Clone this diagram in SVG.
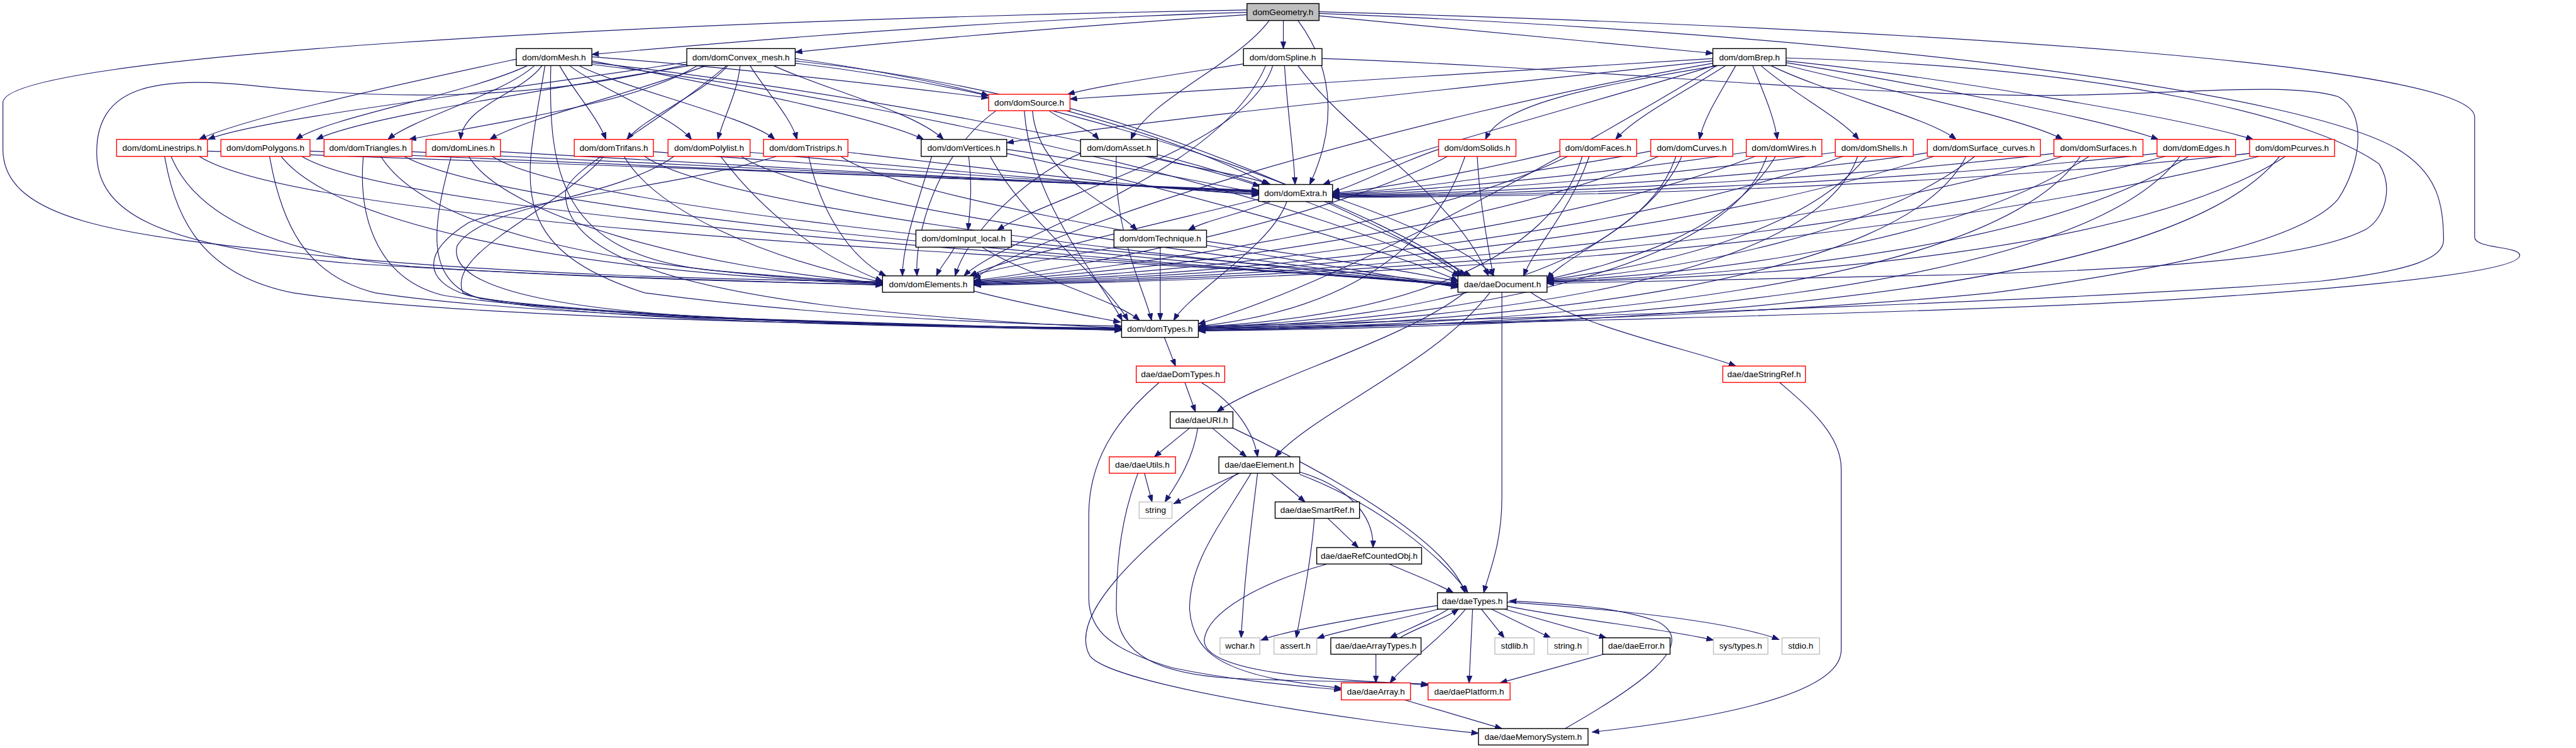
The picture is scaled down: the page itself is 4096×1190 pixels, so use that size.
<svg xmlns="http://www.w3.org/2000/svg" width="4096" height="1190" viewBox="0 0 4096 1190">
<defs>
<marker id="a" markerUnits="userSpaceOnUse" markerWidth="13" markerHeight="10" refX="12" refY="4.5" orient="auto"><path d="M0,0 L12,4.5 L0,9 Z" fill="#191970" stroke="#191970" stroke-width="1"/></marker>
<style>
.e path{fill:none;stroke:#191970;stroke-width:1.25;marker-end:url(#a)}
.n rect{fill:#fff;stroke:#000;stroke-width:1.5}
.n.r rect{stroke:#ff0000}
.n.g rect{stroke:#bfbfbf}
.n.root rect{fill:#bfbfbf}
.n text{font-family:"Liberation Sans",Arial,sans-serif;font-size:14.6px;text-anchor:middle;fill:#000}
</style>
</defs>
<rect width="4096" height="1190" fill="#fff"/>
<g transform="scale(0.93176)">
<g id="connectors" class="e">
<path d="M2128,21 C1750,32 1350,62 1010,93"/>
<path d="M2128,25 C1900,40 1600,64 1357,89"/>
<path d="M2128,17 C1100,35 5,95 5,175 L5,255 C5,390 260,405 560,438 C900,470 1250,478 1506,481"/>
<path d="M2190,35 L2190,83"/>
<path d="M2166,35 C2110,110 1960,170 1930,238"/>
<path d="M2215,35 C2285,130 2275,230 2235,315"/>
<path d="M2251,27 C2500,50 2750,75 2923,91"/>
<path d="M2251,20 C3300,50 4223,110 4223,200 L4223,405 C4223,425 4300,420 4300,436 C4300,470 3900,500 3700,512 C3300,535 2400,556 2045,560"/>
<path d="M2251,23 C3200,60 3950,160 4100,260 C4160,300 4170,350 4170,410 C4170,440 4120,462 3960,480 C3600,510 2800,540 2045,557"/>
<path d="M881,101 C700,140 420,200 340,238"/>
<path d="M900,112 C800,160 560,200 505,238"/>
<path d="M912,112 C860,160 710,200 662,238"/>
<path d="M925,112 C890,160 790,180 786,238"/>
<path d="M955,112 C975,150 1020,200 1034,238"/>
<path d="M972,112 C1020,150 1150,200 1180,238"/>
<path d="M988,112 C1060,150 1280,200 1322,238"/>
<path d="M1010,104 C1200,140 1500,200 1576,238"/>
<path d="M1010,97 C1250,115 1550,150 1687,167"/>
<path d="M1010,107 C1400,150 1950,250 2150,318"/>
<path d="M940,112 C935,300 960,430 1200,460 C1350,475 1450,478 1506,484"/>
<path d="M930,112 C900,300 850,420 1100,500 C1400,540 1700,553 1914,557"/>
<path d="M1010,110 C1600,180 2300,360 2490,472"/>
<path d="M1172,106 C900,150 450,200 355,238"/>
<path d="M1176,112 C900,160 620,200 540,238"/>
<path d="M1190,112 C1100,170 900,200 698,238"/>
<path d="M1205,112 C1080,160 900,200 836,238"/>
<path d="M1242,112 C1200,160 1100,200 1070,238"/>
<path d="M1263,112 C1258,160 1235,200 1225,238"/>
<path d="M1280,112 C1310,160 1350,200 1360,238"/>
<path d="M1320,112 C1400,150 1560,190 1610,238"/>
<path d="M1357,100 C1500,120 1620,145 1687,163"/>
<path d="M1357,104 C1700,140 2000,230 2165,315"/>
<path d="M1172,110 C900,175 650,170 420,145 C260,130 165,150 165,260 C165,360 260,420 600,450 C1000,475 1300,480 1506,487"/>
<path d="M1240,112 C1100,230 965,290 965,330 C965,420 1100,480 1400,520 C1600,545 1800,555 1914,560"/>
<path d="M1357,108 C1900,170 2400,380 2500,471"/>
<path d="M2122,109 C2020,125 1880,145 1822,161"/>
<path d="M2172,112 C2130,250 1800,330 1702,393"/>
<path d="M2192,112 C2198,200 2208,260 2210,315"/>
<path d="M2160,112 C2080,300 1720,400 1645,471"/>
<path d="M2215,112 C2300,230 2480,330 2540,471"/>
<path d="M2256,100 C2700,115 3100,160 3480,163 C3700,163 3900,138 3990,165 C4040,190 4030,280 3990,340 C3930,410 3700,460 3400,500 C3000,540 2400,555 2045,565"/>
<path d="M2923,100 C2600,120 2100,150 1826,169"/>
<path d="M2923,104 C2500,150 1900,210 1718,244"/>
<path d="M2926,112 C2700,180 2400,260 2258,315"/>
<path d="M2932,112 C2700,150 2560,180 2535,238"/>
<path d="M2945,112 C2870,160 2790,200 2757,238"/>
<path d="M2962,112 C2935,160 2908,200 2900,238"/>
<path d="M2991,112 C3010,160 3028,200 3033,238"/>
<path d="M3005,112 C3060,160 3140,200 3172,238"/>
<path d="M3022,112 C3120,160 3290,200 3338,238"/>
<path d="M3042,110 C3200,150 3450,200 3520,238"/>
<path d="M3048,107 C3250,140 3580,200 3683,238"/>
<path d="M3048,104 C3300,130 3720,200 3845,238"/>
<path d="M2923,108 C2400,200 1800,380 1662,476"/>
<path d="M3048,99 C3600,115 3950,200 4060,280 C4085,320 4070,370 4040,390 C3950,440 3700,460 3300,470 C3000,476 2800,480 2640,484"/>
<path d="M2930,112 C2700,250 2300,480 2045,553"/>
<path d="M1790,189 C1820,210 1860,220 1875,238"/>
<path d="M1762,189 C1770,300 1900,350 1940,393"/>
<path d="M1700,189 C1600,260 1560,400 1565,471"/>
<path d="M1748,189 C1760,350 1880,480 1915,547"/>
<path d="M1826,185 C2100,260 2400,400 2495,471"/>
<path d="M1653,267 C1660,320 1655,360 1652,393"/>
<path d="M1718,255 C1900,280 2050,310 2148,330"/>
<path d="M1590,267 C1565,350 1540,420 1540,471"/>
<path d="M1690,267 C1750,380 1880,470 1925,547"/>
<path d="M1718,262 C2000,320 2350,420 2488,479"/>
<path d="M1955,267 C2050,290 2130,300 2168,315"/>
<path d="M1844,262 C1750,300 1650,400 1630,471"/>
<path d="M1905,267 C1900,400 1955,500 1965,547"/>
<path d="M1975,264 C2200,320 2420,420 2510,471"/>
<path d="M2168,344 C2120,365 2060,375 2028,393"/>
<path d="M2148,340 C1900,400 1720,440 1655,471"/>
<path d="M2196,344 C2170,420 2030,500 2003,547"/>
<path d="M2274,336 C2400,380 2510,430 2550,471"/>
<path d="M1629,422 C1620,440 1605,455 1598,471"/>
<path d="M1676,422 C1750,470 1900,510 1945,547"/>
<path d="M1726,412 C2000,440 2300,462 2488,484"/>
<path d="M1980,422 L1980,547"/>
<path d="M1905,422 C1800,440 1700,458 1655,471"/>
<path d="M2059,412 C2250,440 2400,462 2488,481"/>
<path d="M1662,497 C1750,520 1850,538 1912,550"/>
<path d="M2563,499 L2563,850 C2563,930 2540,980 2532,1012"/>
<path d="M2543,499 C2450,620 2250,700 2176,780"/>
<path d="M2500,499 C2400,580 2150,650 2077,703"/>
<path d="M2612,499 C2700,560 2900,600 2962,625"/>
<path d="M1987,576 L2006,625"/>
<path d="M2022,653 L2040,703"/>
<path d="M2050,653 C2110,690 2140,740 2146,780"/>
<path d="M1978,653 C1900,720 1858,790 1858,880 L1858,1020 C1858,1080 1900,1110 2000,1140 C2120,1165 2230,1172 2289,1178"/>
<path d="M2030,731 L1970,780"/>
<path d="M2044,731 C2035,790 2005,830 1988,857"/>
<path d="M2069,731 L2127,780"/>
<path d="M2104,731 C2250,800 2470,920 2500,1012"/>
<path d="M1953,808 L1966,857"/>
<path d="M1942,808 C1915,880 1905,950 1905,1040 C1908,1120 1980,1150 2100,1158 C2250,1165 2380,1163 2437,1170"/>
<path d="M2115,808 L2003,860"/>
<path d="M2169,808 L2227,857"/>
<path d="M2218,806 C2300,830 2345,880 2343,935"/>
<path d="M2218,810 C2350,860 2460,950 2505,1012"/>
<path d="M2146,808 C2135,900 2124,980 2118,1089"/>
<path d="M2135,808 C2080,900 2030,960 2030,1040 C2035,1110 2080,1140 2180,1160 C2230,1168 2260,1172 2289,1175"/>
<path d="M2112,808 C1950,930 1820,1050 1860,1120 C1900,1170 2300,1230 2523,1252"/>
<path d="M2266,885 L2318,935"/>
<path d="M2243,885 C2238,950 2225,1020 2212,1089"/>
<path d="M2370,963 C2410,980 2450,995 2480,1012"/>
<path d="M2265,963 C2150,995 2060,1045 2055,1093 C2055,1140 2200,1160 2437,1168"/>
<path d="M2453,1034 C2350,1050 2200,1075 2152,1093"/>
<path d="M2455,1040 C2380,1060 2290,1075 2248,1090"/>
<path d="M2472,1040 C2440,1060 2400,1075 2372,1089"/>
<path d="M2389,1089 C2420,1070 2460,1060 2489,1040"/>
<path d="M2501,1040 C2460,1090 2400,1130 2372,1166"/>
<path d="M2513,1040 L2507,1166"/>
<path d="M2528,1040 L2567,1089"/>
<path d="M2545,1040 L2646,1089"/>
<path d="M2567,1040 L2741,1089"/>
<path d="M2572,1035 C2700,1060 2850,1075 2924,1093"/>
<path d="M2572,1028 C2750,1040 2950,1060 3036,1092"/>
<path d="M2671,1244 C2800,1170 2900,1100 2830,1062 C2760,1035 2650,1030 2576,1026"/>
<path d="M2348,1117 L2348,1166"/>
<path d="M2737,1117 L2560,1166"/>
<path d="M2397,1195 L2563,1244"/>
<path d="M3037,653 C3080,690 3142,740 3142,800 L3142,1110 C3142,1190 2900,1230 2717,1250"/>
<path d="M354,258 C800,275 1700,305 2148,325"/>
<path d="M529,258 C900,275 1700,308 2148,326"/>
<path d="M703,259 C1100,278 1750,310 2148,327"/>
<path d="M854,259 C1200,280 1800,312 2148,328"/>
<path d="M1115,259 C1400,280 1850,315 2148,329"/>
<path d="M1280,260 C1550,285 1900,318 2148,331"/>
<path d="M1447,260 C1700,290 1950,320 2148,333"/>
<path d="M340,267 C550,400 2100,450 2488,485"/>
<path d="M515,267 C700,380 2100,455 2488,486"/>
<path d="M690,267 C900,380 2100,455 2488,487"/>
<path d="M840,267 C1000,370 2150,455 2488,488"/>
<path d="M1100,267 C1250,370 2200,455 2488,489"/>
<path d="M1265,267 C1400,360 2250,455 2488,490"/>
<path d="M1435,267 C1550,350 2300,455 2488,491"/>
<path d="M281,267 C300,380 350,470 500,500 C800,545 1500,556 1914,560"/>
<path d="M292,267 C330,360 450,430 700,455 C1000,475 1300,482 1506,486"/>
<path d="M460,267 C480,380 520,470 640,500 C900,540 1500,556 1914,561"/>
<path d="M480,267 C560,370 900,460 1506,485"/>
<path d="M620,267 C610,380 650,480 760,505 C1000,540 1500,556 1914,561"/>
<path d="M650,267 C720,380 1000,460 1506,484"/>
<path d="M770,267 C740,380 720,480 820,510 C1100,545 1600,557 1914,562"/>
<path d="M800,267 C860,370 1200,460 1506,483"/>
<path d="M1030,267 C950,360 760,430 790,500 C900,545 1500,558 1914,563"/>
<path d="M1065,267 C1120,360 1300,440 1506,482"/>
<path d="M1150,267 C1050,340 820,350 780,420 C760,500 1000,535 1300,545 C1600,555 1800,560 1914,564"/>
<path d="M1230,267 C1300,360 1400,440 1506,480"/>
<path d="M1325,267 C1150,320 900,340 800,380 C720,430 720,480 800,505 C1000,545 1600,558 1914,564"/>
<path d="M1380,267 C1400,360 1450,440 1512,471"/>
<path d="M2455,255 C2380,280 2320,315 2274,328"/>
<path d="M2662,258 C2550,285 2380,320 2274,330"/>
<path d="M2817,258 C2650,290 2400,325 2274,331"/>
<path d="M2980,260 C2750,295 2450,325 2274,332"/>
<path d="M3132,260 C2850,300 2500,328 2274,333"/>
<path d="M3289,261 C3000,305 2550,330 2274,334"/>
<path d="M3505,262 C3100,310 2600,332 2274,335"/>
<path d="M3681,262 C3200,315 2650,334 2274,336"/>
<path d="M3839,262 C3300,320 2700,336 2274,337"/>
<path d="M2470,267 C2300,360 1900,450 1662,479"/>
<path d="M2675,267 C2450,380 1950,455 1662,480"/>
<path d="M2830,267 C2550,390 2000,460 1662,481"/>
<path d="M2995,267 C2650,400 2050,465 1662,482"/>
<path d="M3145,267 C2750,410 2100,468 1662,483"/>
<path d="M3300,267 C2850,415 2150,470 1662,484"/>
<path d="M3520,267 C3000,420 2200,472 1662,485"/>
<path d="M3695,267 C3100,425 2250,474 1662,486"/>
<path d="M3855,267 C3200,430 2300,476 1662,487"/>
<path d="M2521,267 C2525,350 2540,420 2548,471"/>
<path d="M2712,267 C2680,360 2620,420 2600,471"/>
<path d="M2870,267 C2820,380 2680,430 2640,476"/>
<path d="M3030,267 C2950,400 2760,450 2640,477"/>
<path d="M3185,267 C3080,400 2820,455 2640,478"/>
<path d="M3370,267 C3200,400 2880,460 2640,479"/>
<path d="M3565,267 C3350,410 2950,465 2640,480"/>
<path d="M3735,267 C3500,420 3000,470 2640,481"/>
<path d="M3900,267 C3650,430 3050,472 2640,482"/>
<path d="M2500,267 C2450,420 2300,530 2045,557"/>
<path d="M2700,267 C2650,440 2400,540 2045,558"/>
<path d="M2860,267 C2800,450 2450,545 2045,559"/>
<path d="M3015,267 C2950,460 2500,548 2045,560"/>
<path d="M3170,267 C3100,470 2550,550 2045,561"/>
<path d="M3355,267 C3250,480 2600,552 2045,562"/>
<path d="M3550,267 C3400,490 2650,554 2045,563"/>
<path d="M3720,267 C3550,500 2700,556 2045,564"/>
<path d="M3890,267 C3700,510 2750,558 2045,565"/>
</g>
<g id="n-domGeometry" class="n root"><rect x="2128" y="6" width="123" height="29"/><text x="2189.5" y="25.5">domGeometry.h</text></g>
<g id="n-domMesh" class="n"><rect x="881" y="83" width="129" height="29"/><text x="945.5" y="102.5">dom/domMesh.h</text></g>
<g id="n-domConvex_mesh" class="n"><rect x="1172" y="83" width="185" height="29"/><text x="1264.5" y="102.5">dom/domConvex_mesh.h</text></g>
<g id="n-domSpline" class="n"><rect x="2122" y="83" width="134" height="29"/><text x="2189" y="102.5">dom/domSpline.h</text></g>
<g id="n-domBrep" class="n"><rect x="2923" y="83" width="125" height="29"/><text x="2985.5" y="102.5">dom/domBrep.h</text></g>
<g id="n-domSource" class="n r"><rect x="1687" y="161" width="139" height="28"/><text x="1756.5" y="180">dom/domSource.h</text></g>
<g id="n-domLinestrips" class="n r"><rect x="199" y="238" width="155" height="29"/><text x="276.5" y="257.5">dom/domLinestrips.h</text></g>
<g id="n-domPolygons" class="n r"><rect x="377" y="238" width="152" height="29"/><text x="453" y="257.5">dom/domPolygons.h</text></g>
<g id="n-domTriangles" class="n r"><rect x="553" y="238" width="150" height="29"/><text x="628" y="257.5">dom/domTriangles.h</text></g>
<g id="n-domLines" class="n r"><rect x="727" y="238" width="127" height="29"/><text x="790.5" y="257.5">dom/domLines.h</text></g>
<g id="n-domTrifans" class="n r"><rect x="980" y="238" width="135" height="29"/><text x="1047.5" y="257.5">dom/domTrifans.h</text></g>
<g id="n-domPolylist" class="n r"><rect x="1140" y="238" width="140" height="29"/><text x="1210" y="257.5">dom/domPolylist.h</text></g>
<g id="n-domTristrips" class="n r"><rect x="1303" y="238" width="144" height="29"/><text x="1375" y="257.5">dom/domTristrips.h</text></g>
<g id="n-domVertices" class="n"><rect x="1572" y="238" width="146" height="29"/><text x="1645" y="257.5">dom/domVertices.h</text></g>
<g id="n-domAsset" class="n"><rect x="1844" y="238" width="131" height="29"/><text x="1909.5" y="257.5">dom/domAsset.h</text></g>
<g id="n-domSolids" class="n r"><rect x="2455" y="238" width="132" height="29"/><text x="2521" y="257.5">dom/domSolids.h</text></g>
<g id="n-domFaces" class="n r"><rect x="2662" y="238" width="131" height="29"/><text x="2727.5" y="257.5">dom/domFaces.h</text></g>
<g id="n-domCurves" class="n r"><rect x="2817" y="238" width="140" height="29"/><text x="2887" y="257.5">dom/domCurves.h</text></g>
<g id="n-domWires" class="n r"><rect x="2980" y="238" width="129" height="29"/><text x="3044.5" y="257.5">dom/domWires.h</text></g>
<g id="n-domShells" class="n r"><rect x="3132" y="238" width="133" height="29"/><text x="3198.5" y="257.5">dom/domShells.h</text></g>
<g id="n-domSurface_curves" class="n r"><rect x="3289" y="238" width="193" height="29"/><text x="3385.5" y="257.5">dom/domSurface_curves.h</text></g>
<g id="n-domSurfaces" class="n r"><rect x="3505" y="238" width="152" height="29"/><text x="3581" y="257.5">dom/domSurfaces.h</text></g>
<g id="n-domEdges" class="n r"><rect x="3681" y="238" width="134" height="29"/><text x="3748" y="257.5">dom/domEdges.h</text></g>
<g id="n-domPcurves" class="n r"><rect x="3839" y="238" width="145" height="29"/><text x="3911.5" y="257.5">dom/domPcurves.h</text></g>
<g id="n-domExtra" class="n"><rect x="2148" y="315" width="126" height="29"/><text x="2211" y="334.5">dom/domExtra.h</text></g>
<g id="n-domInput_local" class="n"><rect x="1563" y="393" width="163" height="29"/><text x="1644.5" y="412.5">dom/domInput_local.h</text></g>
<g id="n-domTechnique" class="n"><rect x="1901" y="393" width="158" height="29"/><text x="1980" y="412.5">dom/domTechnique.h</text></g>
<g id="n-domElements" class="n"><rect x="1506" y="471" width="156" height="28"/><text x="1584" y="490">dom/domElements.h</text></g>
<g id="n-daeDocument" class="n"><rect x="2488" y="471" width="152" height="28"/><text x="2564" y="490">dae/daeDocument.h</text></g>
<g id="n-domTypes" class="n"><rect x="1914" y="547" width="131" height="29"/><text x="1979.5" y="566.5">dom/domTypes.h</text></g>
<g id="n-daeDomTypes" class="n r"><rect x="1939" y="625" width="151" height="28"/><text x="2014.5" y="644">dae/daeDomTypes.h</text></g>
<g id="n-daeStringRef" class="n r"><rect x="2940" y="625" width="141" height="28"/><text x="3010.5" y="644">dae/daeStringRef.h</text></g>
<g id="n-daeURI" class="n"><rect x="1997" y="703" width="107" height="28"/><text x="2050.5" y="722">dae/daeURI.h</text></g>
<g id="n-daeUtils" class="n r"><rect x="1893" y="780" width="113" height="28"/><text x="1949.5" y="799">dae/daeUtils.h</text></g>
<g id="n-daeElement" class="n"><rect x="2080" y="780" width="138" height="28"/><text x="2149" y="799">dae/daeElement.h</text></g>
<g id="n-string" class="n g"><rect x="1944" y="857" width="56" height="28"/><text x="1972" y="876">string</text></g>
<g id="n-daeSmartRef" class="n"><rect x="2176" y="857" width="144" height="28"/><text x="2248" y="876">dae/daeSmartRef.h</text></g>
<g id="n-daeRefCountedObj" class="n"><rect x="2247" y="935" width="179" height="28"/><text x="2336.5" y="954">dae/daeRefCountedObj.h</text></g>
<g id="n-daeTypes" class="n"><rect x="2453" y="1012" width="119" height="28"/><text x="2512.5" y="1031">dae/daeTypes.h</text></g>
<g id="n-wchar" class="n g"><rect x="2082" y="1089" width="68" height="28"/><text x="2116" y="1108">wchar.h</text></g>
<g id="n-assert" class="n g"><rect x="2174" y="1089" width="73" height="28"/><text x="2210.5" y="1108">assert.h</text></g>
<g id="n-daeArrayTypes" class="n"><rect x="2271" y="1089" width="154" height="28"/><text x="2348" y="1108">dae/daeArrayTypes.h</text></g>
<g id="n-stdlib" class="n g"><rect x="2551" y="1089" width="67" height="28"/><text x="2584.5" y="1108">stdlib.h</text></g>
<g id="n-string_h" class="n g"><rect x="2641" y="1089" width="69" height="28"/><text x="2675.5" y="1108">string.h</text></g>
<g id="n-daeError" class="n"><rect x="2735" y="1089" width="115" height="28"/><text x="2792.5" y="1108">dae/daeError.h</text></g>
<g id="n-sys_types" class="n g"><rect x="2924" y="1089" width="93" height="28"/><text x="2970.5" y="1108">sys/types.h</text></g>
<g id="n-stdio" class="n g"><rect x="3041" y="1089" width="64" height="28"/><text x="3073" y="1108">stdio.h</text></g>
<g id="n-daeArray" class="n r"><rect x="2289" y="1166" width="118" height="29"/><text x="2348" y="1185.5">dae/daeArray.h</text></g>
<g id="n-daePlatform" class="n r"><rect x="2437" y="1166" width="140" height="29"/><text x="2507" y="1185.5">dae/daePlatform.h</text></g>
<g id="n-daeMemorySystem" class="n"><rect x="2523" y="1244" width="187" height="28"/><text x="2616.5" y="1263">dae/daeMemorySystem.h</text></g>
</g>
</svg>
